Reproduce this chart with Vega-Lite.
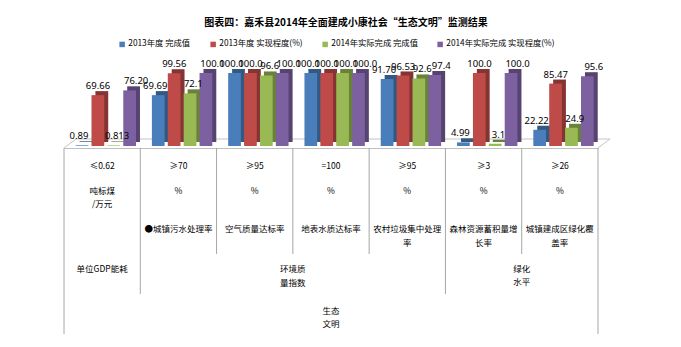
{
  "$schema": "https://vega.github.io/schema/vega-lite/v6.json",
  "padding": {"left": 63, "top": 18, "right": 0, "bottom": 0},
  "background": "white",
  "bounds": "flush",
  "config": {
    "view": {"stroke": null},
    "font": "Noto Sans CJK SC"
  },
  "title": {
    "text": "图表四：嘉禾县2014年全面建成小康社会“生态文明”监测结果",
    "font": "Noto Sans CJK SC",
    "fontSize": 10,
    "fontWeight": "bold",
    "color": "#000000",
    "anchor": "middle",
    "dx": 9,
    "offset": 12
  },
  "datasets": {
    "bars": [
      {"cat": "c1", "series": "2013年度 完成值", "value": 0.89, "label": "0.89"},
      {"cat": "c1", "series": "2013年度 实现程度(%)", "value": 69.66, "label": "69.66"},
      {"cat": "c1", "series": "2014年实际完成 完成值", "value": 0.813, "label": "0.813"},
      {"cat": "c1", "series": "2014年实际完成 实现程度(%)", "value": 76.2, "label": "76.20"},
      {"cat": "c2", "series": "2013年度 完成值", "value": 69.69, "label": "69.69"},
      {"cat": "c2", "series": "2013年度 实现程度(%)", "value": 99.56, "label": "99.56"},
      {"cat": "c2", "series": "2014年实际完成 完成值", "value": 72.1, "label": "72.1"},
      {"cat": "c2", "series": "2014年实际完成 实现程度(%)", "value": 100.0, "label": "100.0"},
      {"cat": "c3", "series": "2013年度 完成值", "value": 100.0, "label": "100.0"},
      {"cat": "c3", "series": "2013年度 实现程度(%)", "value": 100.0, "label": "100.0"},
      {"cat": "c3", "series": "2014年实际完成 完成值", "value": 96.6, "label": "96.6"},
      {"cat": "c3", "series": "2014年实际完成 实现程度(%)", "value": 100.0, "label": "100.0"},
      {"cat": "c4", "series": "2013年度 完成值", "value": 100.0, "label": "100.0"},
      {"cat": "c4", "series": "2013年度 实现程度(%)", "value": 100.0, "label": "100.0"},
      {"cat": "c4", "series": "2014年实际完成 完成值", "value": 100.0, "label": "100.0"},
      {"cat": "c4", "series": "2014年实际完成 实现程度(%)", "value": 100.0, "label": "100.0"},
      {"cat": "c5", "series": "2013年度 完成值", "value": 91.7, "label": "91.70"},
      {"cat": "c5", "series": "2013年度 实现程度(%)", "value": 96.53, "label": "96.53"},
      {"cat": "c5", "series": "2014年实际完成 完成值", "value": 92.6, "label": "92.6"},
      {"cat": "c5", "series": "2014年实际完成 实现程度(%)", "value": 97.4, "label": "97.4"},
      {"cat": "c6", "series": "2013年度 完成值", "value": 4.99, "label": "4.99"},
      {"cat": "c6", "series": "2013年度 实现程度(%)", "value": 100.0, "label": "100.0"},
      {"cat": "c6", "series": "2014年实际完成 完成值", "value": 3.1, "label": "3.1"},
      {"cat": "c6", "series": "2014年实际完成 实现程度(%)", "value": 100.0, "label": "100.0"},
      {"cat": "c7", "series": "2013年度 完成值", "value": 22.22, "label": "22.22"},
      {"cat": "c7", "series": "2013年度 实现程度(%)", "value": 85.47, "label": "85.47"},
      {"cat": "c7", "series": "2014年实际完成 完成值", "value": 24.9, "label": "24.9"},
      {"cat": "c7", "series": "2014年实际完成 实现程度(%)", "value": 95.6, "label": "95.6"}
    ],
    "cats": [
      {"cat": "c1", "threshold": "≤0.62", "unit": "吨标煤\n/万元", "name": ""},
      {"cat": "c2", "threshold": "≥70", "unit": "%", "name": "●城镇污水处理率"},
      {"cat": "c3", "threshold": "≥95", "unit": "%", "name": "空气质量达标率"},
      {"cat": "c4", "threshold": "=100", "unit": "%", "name": "地表水质达标率"},
      {"cat": "c5", "threshold": "≥95", "unit": "%", "name": "农村垃圾集中处理\n率"},
      {"cat": "c6", "threshold": "≥3", "unit": "%", "name": "森林资源蓄积量增\n长率"},
      {"cat": "c7", "threshold": "≥26", "unit": "%", "name": "城镇建成区绿化覆\n盖率"}
    ]
  },
  "spacing": 0,
  "resolve": {"scale": {"x": "shared"}},
  "vconcat": [
    {
      "width": 534,
      "height": 75,
      "resolve": {"scale": {"xOffset": "independent"}},
      "layer": [
        {
          "data": {"name": "cats"},
          "mark": {"type": "tick", "size": 76.3, "thickness": 1, "color": "#c4c4c4", "opacity": 1, "xOffset": 12, "yOffset": -7},
          "encoding": {
            "x": {"field": "cat", "type": "nominal", "scale": {"paddingInner": 0, "paddingOuter": 0}, "axis": {"labels": false, "ticks": false, "title": null, "domain": true, "domainColor": "#bfbfbf", "grid": false}},
            "y": {"datum": 0, "type": "quantitative", "scale": {"domain": [-2.74, 100], "nice": false}, "axis": null}
          }
        },
        {
          "data": {"values": [{}]},
          "mark": {"type": "rule", "color": "#c4c4c4", "x2Offset": 12, "y2Offset": -9},
          "encoding": {
            "x": {"datum": "c1", "type": "nominal", "bandPosition": 0},
            "x2": {"datum": "c1", "bandPosition": 0},
            "y": {"datum": -2.74, "type": "quantitative"},
            "y2": {"datum": -2.74}
          }
        },
        {
          "data": {"values": [{}]},
          "mark": {"type": "rule", "color": "#c4c4c4", "x2Offset": 12, "y2Offset": -9},
          "encoding": {
            "x": {"datum": "c7", "type": "nominal", "bandPosition": 1},
            "x2": {"datum": "c7", "bandPosition": 1},
            "y": {"datum": -2.74, "type": "quantitative"},
            "y2": {"datum": -2.74}
          }
        },
        {
          "data": {"name": "bars"},
          "mark": {"type": "bar", "yOffset": -4, "y2Offset": -4},
          "encoding": {
            "x": {"field": "cat", "type": "nominal"},
            "xOffset": {"field": "series", "type": "nominal", "scale": {"paddingInner": 0.2, "paddingOuter": 0.5, "align": 0.98}},
            "y": {"field": "value", "type": "quantitative"},
            "y2": {"datum": 0},
            "color": {"field": "series", "type": "nominal"}
          }
        },
        {
          "data": {"name": "bars"},
          "mark": {"type": "bar", "yOffset": -4, "y2Offset": -4, "color": "#000000", "opacity": 0.3},
          "encoding": {
            "x": {"field": "cat", "type": "nominal"},
            "xOffset": {"field": "series", "type": "nominal", "scale": {"paddingInner": 0.2, "paddingOuter": 0.5, "align": 0.98}},
            "y": {"field": "value", "type": "quantitative"},
            "y2": {"datum": 0}
          }
        },
        {
          "data": {"name": "bars"},
          "mark": {"type": "bar"},
          "encoding": {
            "x": {"field": "cat", "type": "nominal"},
            "xOffset": {"field": "series", "type": "nominal", "scale": {"paddingInner": 0.2, "paddingOuter": 0.5, "align": 0.73}},
            "y": {"field": "value", "type": "quantitative"},
            "y2": {"datum": 0},
            "color": {
              "field": "series", "type": "nominal",
              "scale": {"range": ["#4A7EBB", "#BE4B48", "#98B954", "#7D60A0"]},
              "legend": {"orient": "none", "legendX": 54, "legendY": -33, "direction": "horizontal", "title": null, "symbolType": "square", "symbolSize": 30, "symbolStrokeWidth": 0, "labelFont": "Noto Sans CJK SC", "labelFontSize": 8.3, "labelColor": "#000000", "labelOffset": 2, "columnPadding": 18}
            }
          }
        },
        {
          "data": {"name": "bars"},
          "mark": {"type": "text", "baseline": "alphabetic", "dy": -6, "dx": 1, "font": "Liberation Sans Narrow, Noto Sans", "fontSize": 9.5, "color": "#000000"},
          "encoding": {
            "x": {"field": "cat", "type": "nominal"},
            "xOffset": {"field": "series", "type": "nominal", "scale": {"paddingInner": 0.2, "paddingOuter": 0.5, "align": 0.73}},
            "y": {"field": "value", "type": "quantitative"},
            "text": {"field": "label"}
          }
        }
      ]
    },
    {
      "width": 534,
      "height": 106,
      "data": {"name": "cats"},
      "layer": [
        {
          "mark": {"type": "rule", "color": "#a6a6a6"},
          "encoding": {"x": {"field": "cat", "type": "nominal", "bandPosition": 0, "axis": null}}
        },
        {
          "transform": [{"filter": "datum.cat == 'c7'"}],
          "mark": {"type": "rule", "color": "#a6a6a6"},
          "encoding": {"x": {"field": "cat", "type": "nominal", "bandPosition": 1, "axis": null}}
        },
        {
          "mark": {"type": "text", "baseline": "top", "dy": -39.5, "fontSize": 8.5, "font": "Noto Sans CJK SC", "color": "#000000"},
          "encoding": {"x": {"field": "cat", "type": "nominal", "axis": null}, "text": {"field": "threshold"}}
        },
        {
          "mark": {"type": "text", "baseline": "top", "dy": -14.5, "fontSize": 8.5, "lineBreak": "\n", "lineHeight": 13, "font": "Noto Sans CJK SC", "color": "#000000"},
          "encoding": {"x": {"field": "cat", "type": "nominal", "axis": null}, "text": {"field": "unit"}}
        },
        {
          "mark": {"type": "text", "baseline": "top", "dy": 23.5, "fontSize": 8.5, "lineBreak": "\n", "lineHeight": 14, "font": "Noto Sans CJK SC", "color": "#000000"},
          "encoding": {"x": {"field": "cat", "type": "nominal", "axis": null}, "text": {"field": "name"}}
        }
      ]
    },
    {
      "width": 534,
      "height": 40,
      "layer": [
        {
          "data": {"name": "cats"},
          "transform": [{"filter": "datum.cat == 'c1' || datum.cat == 'c2' || datum.cat == 'c6'"}],
          "mark": {"type": "rule", "color": "#a6a6a6"},
          "encoding": {"x": {"field": "cat", "type": "nominal", "bandPosition": 0, "axis": null}}
        },
        {
          "data": {"name": "cats"},
          "transform": [{"filter": "datum.cat == 'c7'"}],
          "mark": {"type": "rule", "color": "#a6a6a6"},
          "encoding": {"x": {"field": "cat", "type": "nominal", "bandPosition": 1, "axis": null}}
        },
        {
          "data": {"values": [{"group": "单位GDP能耗"}]},
          "mark": {"type": "text", "baseline": "top", "dy": -9.5, "fontSize": 8.5, "font": "Noto Sans CJK SC", "color": "#000000"},
          "encoding": {"x": {"datum": "c1", "type": "nominal", "axis": null}, "text": {"field": "group"}}
        },
        {
          "data": {"values": [{"group": "环境质\n量指数"}]},
          "mark": {"type": "text", "baseline": "top", "dy": -9.5, "fontSize": 8.5, "lineBreak": "\n", "lineHeight": 14, "font": "Noto Sans CJK SC", "color": "#000000"},
          "encoding": {"x": {"datum": "c4", "type": "nominal", "bandPosition": 0, "axis": null}, "text": {"field": "group"}}
        },
        {
          "data": {"values": [{"group": "绿化\n水平"}]},
          "mark": {"type": "text", "baseline": "top", "dy": -9.5, "fontSize": 8.5, "lineBreak": "\n", "lineHeight": 13.5, "font": "Noto Sans CJK SC", "color": "#000000"},
          "encoding": {"x": {"datum": "c7", "type": "nominal", "bandPosition": 0, "axis": null}, "text": {"field": "group"}}
        }
      ]
    },
    {
      "width": 534,
      "height": 40,
      "layer": [
        {
          "data": {"name": "cats"},
          "transform": [{"filter": "datum.cat == 'c1'"}],
          "mark": {"type": "rule", "color": "#a6a6a6"},
          "encoding": {"x": {"field": "cat", "type": "nominal", "bandPosition": 0, "axis": null}}
        },
        {
          "data": {"name": "cats"},
          "transform": [{"filter": "datum.cat == 'c7'"}],
          "mark": {"type": "rule", "color": "#a6a6a6"},
          "encoding": {"x": {"field": "cat", "type": "nominal", "bandPosition": 1, "axis": null}}
        },
        {
          "data": {"values": [{"group": "生态\n文明"}]},
          "mark": {"type": "text", "baseline": "top", "dy": -7.5, "fontSize": 8.5, "lineBreak": "\n", "lineHeight": 13, "font": "Noto Sans CJK SC", "color": "#000000"},
          "encoding": {"x": {"datum": "c4", "type": "nominal", "axis": null}, "text": {"field": "group"}}
        }
      ]
    }
  ]
}
